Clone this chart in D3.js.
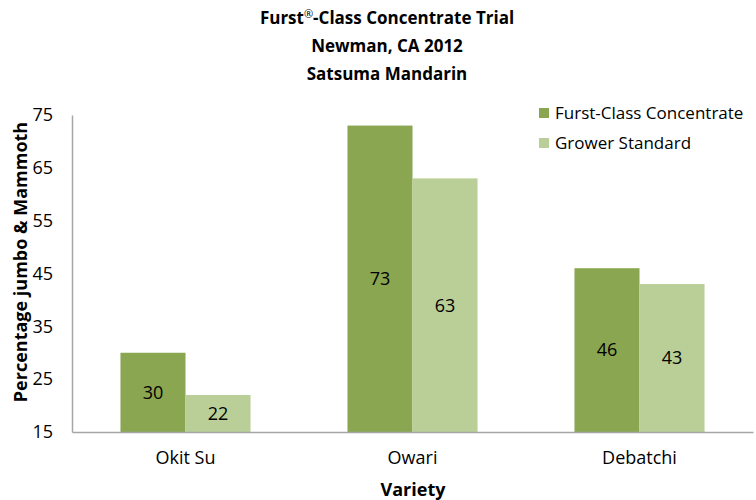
<!DOCTYPE html>
<html><head><meta charset="utf-8">
<script src="https://cdn.jsdelivr.net/npm/d3@7"></script>
<style>body{margin:0;background:#fff}svg{display:block}text{font-family:"Open Sans",Lato,sans-serif}</style>
</head><body><svg id="c" width="756" height="500"></svg>
<script>
const categories = ["Okit Su", "Owari", "Debatchi"];
const seriesNames = ["Furst-Class Concentrate", "Grower Standard"];
const furstValues = [30, 73, 46];
const growerValues = [22, 63, 43];
const yTicks = [15, 25, 35, 45, 55, 65, 75];
const titleLines = ["Furst|\u00AE|-Class Concentrate Trial", "Newman, CA 2012", "Satsuma Mandarin"];
const colors = ["#8aa650", "#b9cf97"];

(function(){
const svg = d3.select("#c");
const pl = 72, pr = 753, pt = 115, pb = 432;
const x = d3.scaleBand().domain(categories).range([pl, pr]).padding(0);
const y = d3.scaleLinear().domain([15, 75]).range([pb, pt]);
const inner = d3.scaleBand().domain([0, 1]).range([0, x.bandwidth() * 0.573]).padding(0);
const groupOff = (x.bandwidth() - x.bandwidth() * 0.573) / 2;

const series = [furstValues, growerValues];
series.forEach((vals, si) => {
  const g = svg.append("g");
  g.selectAll("rect").data(vals).join("rect")
    .attr("x", (d, i) => x(categories[i]) + groupOff + inner(si))
    .attr("y", d => y(d))
    .attr("width", inner.bandwidth())
    .attr("height", d => y(15) - y(d))
    .attr("fill", colors[si]);
  g.selectAll("text").data(vals).join("text")
    .attr("x", (d, i) => x(categories[i]) + groupOff + inner(si) + inner.bandwidth() / 2)
    .attr("y", d => (y(d) + y(15)) / 2)
    .attr("dy", "0.35em")
    .attr("text-anchor", "middle")
    .attr("font-size", 18)
    .attr("fill", "#000")
    .text(d => d);
});

const yAxis = svg.append("g").attr("transform", `translate(${pl},0)`)
  .call(d3.axisLeft(y).tickValues(yTicks).tickSize(0).tickPadding(19));
yAxis.select(".domain").attr("stroke", "#a6a6a6").attr("stroke-width", 1.5);
yAxis.selectAll("text").attr("font-size", 18).attr("fill", "#000").style("font-family", "Open Sans");

const xAxis = svg.append("g").attr("transform", `translate(0,${pb})`)
  .call(d3.axisBottom(x).tickSize(0).tickPadding(19));
xAxis.select(".domain").attr("stroke", "#a6a6a6").attr("stroke-width", 1.5);
xAxis.selectAll("text").attr("font-size", 18).attr("fill", "#000").style("font-family", "Open Sans");

const t = svg.selectAll(".title").data(titleLines).join("text")
  .attr("x", 387).attr("y", (d, i) => 24 + i * 28)
  .attr("text-anchor", "middle").attr("font-size", 17).attr("font-weight", "bold");
t.each(function(d) {
  const parts = d.split("|");
  const el = d3.select(this);
  parts.forEach((p, k) => {
    const ts = el.append("tspan").text(p);
    if (k === 1) ts.attr("font-size", 11).attr("font-weight", "normal").attr("dy", -6);
    if (k === 2) ts.attr("dy", 6);
  });
});

svg.append("text").attr("transform", "translate(27,262) rotate(-90)")
  .attr("text-anchor", "middle").attr("font-size", 18).attr("font-weight", "bold")
  .text("Percentage jumbo & Mammoth");
svg.append("text").attr("x", 413).attr("y", 496)
  .attr("text-anchor", "middle").attr("font-size", 18).attr("font-weight", "bold")
  .text("Variety");

const leg = svg.append("g");
seriesNames.forEach((n, i) => {
  leg.append("rect").attr("x", 539).attr("y", 108 + i * 30).attr("width", 10).attr("height", 10).attr("fill", colors[i]);
  leg.append("text").attr("x", 555).attr("y", 113 + i * 30).attr("dy", "0.35em")
    .attr("font-size", 17).text(n);
});
})();
</script></body></html>
